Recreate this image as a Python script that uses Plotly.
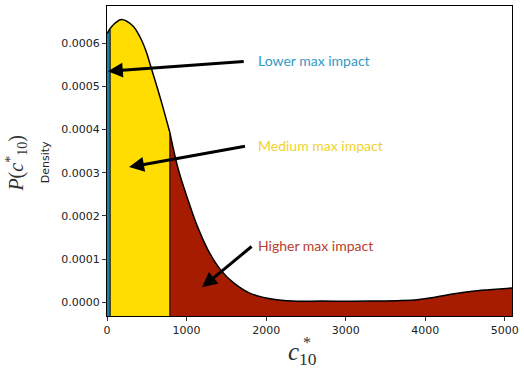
import plotly.graph_objects as go

# Kernel density estimate of c*_10 (read at sample points)
c10 = [0, 40, 100, 180, 320, 410, 490, 550, 610, 690, 790, 900, 1020, 1140,
       1270, 1430, 1600, 1800, 2090, 2330, 2700, 3100, 3400, 3700, 3900,
       4100, 4340, 4590, 4800, 5090]
density = [0.000622, 0.000634, 0.000646, 0.000655, 0.000641, 0.000616,
           0.000582, 0.000546, 0.000510, 0.000460, 0.000393, 0.000305,
           0.000236, 0.000174, 0.000121, 0.0000745, 0.0000438, 0.0000208,
           0.0000070, 0.0000030, 0.0000028, 0.0000025, 0.0000030, 0.0000042,
           0.0000062, 0.0000110, 0.0000190, 0.0000255, 0.0000290, 0.0000330]

# Impact classes: (label, lower bound, upper bound)
region_names = ["Lower max impact", "Medium max impact", "Higher max impact"]
region_bounds = [(0, 40), (40, 790), (790, 5090)]
region_colors = ["#1b7fb0", "#ffdd00", "#a51c00"]
label_colors = ["#3199c6", "#f2d22a", "#b8402c"]

Y_LOW, Y_HIGH = -0.0000317, 0.000686
X_LOW, X_HIGH = 0, 5090

fig = go.Figure()

for (lo, hi), col in zip(region_bounds, region_colors):
    xs = [x for x in c10 if lo <= x <= hi]
    ys = [d for x, d in zip(c10, density) if lo <= x <= hi]
    fig.add_trace(go.Scatter(x=[xs[0], xs[-1]], y=[Y_LOW, Y_LOW], mode="lines",
                             line=dict(width=0), hoverinfo="skip", showlegend=False))
    fig.add_trace(go.Scatter(x=xs, y=ys, mode="lines", fill="tonexty", fillcolor=col,
                             line=dict(color="black", width=1.5, shape="spline"),
                             showlegend=False))

# vertical edges between the classes
for lo, hi in region_bounds[1:]:
    d = density[c10.index(lo)]
    fig.add_trace(go.Scatter(x=[lo, lo], y=[Y_LOW, d], mode="lines",
                             line=dict(color="black", width=1), showlegend=False))

# labelled arrows: (tail x, tail y, tip x, tip y, label x, label y)
arrow_specs = [
    (1737, 0.000558, 10, 0.000535, 1873, 0.000560),
    (1753, 0.000362, 277, 0.000313, 1873, 0.000364),
    (1836, 0.000132, 1195, 0.0000347, 1873, 0.000132),
]
for name, col, (tx, ty, hx, hy, lx, ly) in zip(region_names, label_colors, arrow_specs):
    fig.add_annotation(x=hx, y=hy, ax=tx, ay=ty, xref="x", yref="y", axref="x", ayref="y",
                       text="", showarrow=True, arrowhead=2, arrowsize=1, arrowwidth=3,
                       arrowcolor="black", standoff=0, startstandoff=0)
    fig.add_annotation(x=lx, y=ly, xref="x", yref="y", text=name, showarrow=False,
                       xanchor="left", yanchor="middle",
                       font=dict(family="Lato", size=14, color=col))

W, H = 524, 372
L, R, T, B = 107, 7, 5, 56
pw, ph = W - L - R, H - T - B


def px(x):
    return (x - L) / pw


def py(y):
    return (H - B - y) / ph


serif = "Liberation Serif"
fig.add_annotation(x=px(45), y=py(162), xref="paper", yref="paper", text="Density",
                   textangle=-90, showarrow=False, xanchor="center", yanchor="middle",
                   font=dict(family="DejaVu Sans", size=11, color="#222"))
fig.add_annotation(x=px(16), y=py(163), xref="paper", yref="paper",
                   text="<i>P</i>(<i>c</i><sup>*</sup><sub>10</sub>)",
                   textangle=-90, showarrow=False, xanchor="center", yanchor="middle",
                   font=dict(family=serif, size=20, color="#333"))
fig.add_annotation(x=px(305), y=py(354), xref="paper", yref="paper",
                   text="<i>c</i><sub>10</sub>", showarrow=False,
                   xanchor="center", yanchor="middle",
                   font=dict(family=serif, size=25, color="#333"))
fig.add_annotation(x=px(309), y=py(343), xref="paper", yref="paper",
                   text="*", showarrow=False, xanchor="center", yanchor="middle",
                   font=dict(family=serif, size=16, color="#333"))

axis_common = dict(showline=True, linecolor="black", linewidth=1, mirror=True,
                   ticks="outside", ticklen=4, tickcolor="#333", showgrid=False,
                   zeroline=False, tickfont=dict(family="DejaVu Sans", size=11, color="#222"))

fig.update_layout(
    width=W, height=H, margin=dict(l=L, r=R, t=T, b=B),
    plot_bgcolor="white", paper_bgcolor="white",
    xaxis=dict(range=[X_LOW, X_HIGH], dtick=1000, tick0=0, tickformat="d", **axis_common),
    yaxis=dict(range=[Y_LOW, Y_HIGH], dtick=0.0001, tick0=0, tickformat=".4f", **axis_common),
)

fig.write_html("out.html")
